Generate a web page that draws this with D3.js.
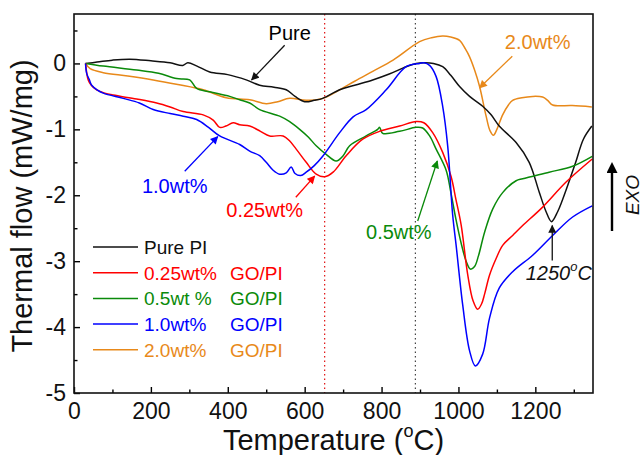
<!DOCTYPE html>
<html>
<head>
<meta charset="utf-8">
<script src="https://cdn.jsdelivr.net/npm/d3@7"></script>
<style>
  body { margin: 0; background: #fff; }
  svg { display: block; font-family: "Liberation Sans", Arial, sans-serif; }
</style>
</head>
<body>
<div id="chart"></div>
<script>
// temperature (C), thermal flow (mW/mg)
const purePI = [[30,0],[60,0.02],[100,0.05],[145,0.065],[200,0.04],[250,0.01],[283,-0.03],[296,0.01],[320,-0.04],[353,-0.13],[400,-0.17],[448,-0.25],[483,-0.33],[520,-0.36],[552,-0.40],[575,-0.50],[600,-0.58],[625,-0.56],[647,-0.53],[691,-0.40],[730,-0.33],[777,-0.25],[820,-0.16],[864,-0.05],[890,0.0],[912,0.01],[935,0.0],[959,-0.05],[980,-0.18],[1003,-0.35],[1029,-0.50],[1063,-0.65],[1085,-0.78],[1106,-0.95],[1150,-1.2],[1184,-1.5],[1210,-1.95],[1228,-2.25],[1242,-2.40],[1258,-2.25],[1270,-2.08],[1280,-1.92],[1292,-1.72],[1305,-1.5],[1325,-1.15],[1347,-0.95]];
const go025 = [[30,0],[37,-0.25],[45,-0.33],[59,-0.40],[80,-0.45],[102,-0.48],[163,-0.54],[215,-0.60],[250,-0.66],[284,-0.73],[336,-0.78],[362,-0.86],[379,-0.97],[395,-0.95],[414,-0.90],[431,-0.93],[457,-0.95],[485,-1.03],[509,-1.10],[544,-1.10],[560,-1.17],[578,-1.30],[604,-1.50],[630,-1.68],[652,-1.72],[674,-1.65],[708,-1.40],[751,-1.15],[795,-1.03],[847,-0.95],[890,-0.88],[910,-0.90],[933,-1.05],[959,-1.35],[981,-1.72],[993,-2.05],[1007,-2.45],[1024,-3.2],[1038,-3.6],[1050,-3.73],[1060,-3.65],[1068,-3.50],[1081,-3.21],[1098,-2.96],[1115,-2.76],[1141,-2.61],[1167,-2.46],[1219,-2.18],[1280,-1.80],[1348,-1.45]];
const go05 = [[30,0],[76,-0.04],[163,-0.10],[220,-0.15],[267,-0.23],[301,-0.25],[319,-0.38],[353,-0.43],[405,-0.50],[431,-0.55],[457,-0.60],[483,-0.70],[535,-0.80],[560,-0.88],[587,-1.00],[610,-1.12],[630,-1.25],[656,-1.38],[682,-1.48],[700,-1.40],[717,-1.25],[760,-1.10],[790,-1.0],[795,-0.97],[803,-1.06],[847,-1.03],[890,-0.97],[907,-0.98],[925,-1.10],[942,-1.30],[968,-1.62],[980,-1.95],[993,-2.35],[1008,-2.75],[1020,-3.0],[1031,-3.12],[1042,-3.08],[1052,-2.92],[1068,-2.56],[1089,-2.21],[1115,-1.96],[1150,-1.78],[1167,-1.75],[1236,-1.65],[1297,-1.56],[1348,-1.41]];
const go10 = [[30,0],[33,-0.15],[40,-0.25],[46,-0.33],[60,-0.40],[76,-0.45],[128,-0.53],[170,-0.60],[206,-0.70],[250,-0.76],[284,-0.80],[319,-0.85],[350,-0.97],[379,-1.10],[431,-1.23],[457,-1.33],[483,-1.40],[500,-1.50],[518,-1.62],[535,-1.68],[552,-1.66],[565,-1.57],[575,-1.67],[590,-1.70],[604,-1.65],[625,-1.55],[648,-1.40],[691,-1.05],[726,-0.81],[760,-0.70],[812,-0.40],[864,-0.05],[899,0.0],[910,0.01],[925,-0.03],[942,-0.20],[959,-0.65],[972,-1.25],[985,-2.30],[994,-2.76],[1011,-3.66],[1029,-4.36],[1044,-4.59],[1063,-4.41],[1081,-3.86],[1106,-3.41],[1141,-3.16],[1193,-2.91],[1245,-2.61],[1297,-2.33],[1348,-2.16]];
const go20 = [[30,0],[42,-0.08],[76,-0.14],[140,-0.19],[206,-0.25],[270,-0.32],[336,-0.40],[396,-0.52],[457,-0.55],[500,-0.61],[530,-0.58],[561,-0.53],[604,-0.56],[647,-0.53],[691,-0.40],[730,-0.27],[777,-0.12],[830,0.05],[899,0.33],[930,0.39],[959,0.415],[980,0.40],[1003,0.35],[1018,0.22],[1029,0.10],[1042,-0.10],[1055,-0.35],[1072,-0.80],[1082,-1.02],[1091,-1.09],[1100,-1.0],[1115,-0.78],[1130,-0.63],[1141,-0.56],[1165,-0.52],[1193,-0.50],[1219,-0.51],[1232,-0.56],[1245,-0.63],[1296,-0.64],[1347,-0.66]];

const seriesNames = ['Pure PI', '0.25wt%', '0.5wt %', '1.0wt%', '2.0wt%'];
const seriesColors = ['#111111', '#ff0000', '#0a8a0a', '#0000ff', '#e8891a'];
const seriesData = [purePI, go025, go05, go10, go20];

const xTicks = [0, 200, 400, 600, 800, 1000, 1200];
const xMinor = [100, 300, 500, 700, 900, 1100, 1300];
const yTicks = [-5, -4, -3, -2, -1, 0];
const yMinor = [-4.5, -3.5, -2.5, -1.5, -0.5, 0.5];

// dotted reference lines
const refLines = [[652, '#e01010'], [888, '#444444']];

// annotations: label, color, text pos [T, V], arrow from, arrow to
const notes = [
    ['Pure', 0, [561, 0.35], [548, 0.275], [462, -0.25]],
    ['1.0wt%', 3, [262, -1.97], [288, -1.635], [374, -1.11]],
    ['0.25wt%', 1, [496, -2.33], [577, -2.03], [626, -1.71]],
    ['0.5wt%', 2, [845, -2.66], [894, -2.39], [945, -1.48]],
    ['2.0wt%', 4, [1206, 0.215], [1140, 0.11], [1055, -0.37]]
];

const width = 643, height = 455;
const margin = {top: 14, right: 50, bottom: 62, left: 74};

const svg = d3.select('#chart').append('svg')
    .attr('width', width)
    .attr('height', height);

const x = d3.scaleLinear()
    .domain([0, 1350])
    .range([margin.left, width - margin.right]);
const y = d3.scaleLinear()
    .domain([-5, 0.75])
    .range([height - margin.bottom, margin.top]);

const defs = svg.append('defs');
seriesColors.forEach((c, i) => {
    defs.append('marker')
        .attr('id', 'arrow' + i)
        .attr('viewBox', '0 0 10 10')
        .attr('refX', 9).attr('refY', 5)
        .attr('markerWidth', 9).attr('markerHeight', 8)
        .attr('markerUnits', 'userSpaceOnUse')
        .attr('orient', 'auto')
        .append('path')
        .attr('d', 'M0,0 L10,5 L0,10 z')
        .attr('fill', c);
});
defs.append('marker')
    .attr('id', 'exoArrow')
    .attr('viewBox', '0 0 10 10')
    .attr('refX', 1).attr('refY', 5)
    .attr('markerWidth', 15).attr('markerHeight', 11)
    .attr('markerUnits', 'userSpaceOnUse')
    .attr('orient', 'auto')
    .append('path')
    .attr('d', 'M0,0 L10,5 L0,10 z')
    .attr('fill', '#000');

// axes
const xAxis = d3.axisBottom(x).tickValues(xTicks).tickSizeInner(-6).tickSizeOuter(0).tickPadding(10).tickFormat(d => String(d));
const xMinorAxis = d3.axisBottom(x).tickValues(xMinor).tickSizeInner(-3.5).tickSizeOuter(0).tickFormat('');
const yAxis = d3.axisLeft(y).tickValues(yTicks).tickSizeInner(-6).tickSizeOuter(0).tickPadding(8).tickFormat(d => String(d));
const yMinorAxis = d3.axisLeft(y).tickValues(yMinor).tickSizeInner(-3.5).tickSizeOuter(0).tickFormat('');

[xAxis, xMinorAxis].forEach(a => {
    svg.append('g')
        .attr('transform', 'translate(0,' + (height - margin.bottom) + ')')
        .call(a);
});
[yAxis, yMinorAxis].forEach(a => {
    svg.append('g')
        .attr('transform', 'translate(' + margin.left + ',0)')
        .call(a);
});
svg.selectAll('.domain').remove();
svg.selectAll('.tick line').attr('stroke', '#000').attr('stroke-width', 1.4);
svg.selectAll('.tick text')
    .attr('fill', '#111')
    .style('font-size', '23px')
    .style('font-family', '"Liberation Sans", Arial, sans-serif');

// reference lines
refLines.forEach(r => {
    svg.append('line')
        .attr('x1', x(r[0])).attr('x2', x(r[0]))
        .attr('y1', y.range()[1]).attr('y2', y.range()[0])
        .attr('stroke', r[1])
        .attr('stroke-width', 1.2)
        .attr('stroke-dasharray', '1.5,3');
});

// curves
const line = d3.line()
    .x(d => x(d[0]))
    .y(d => y(d[1]))
    .curve(d3.curveCatmullRom.alpha(0.5));

const clip = defs.append('clipPath').attr('id', 'plotclip');
clip.append('rect')
    .attr('x', x.range()[0]).attr('y', y.range()[1])
    .attr('width', x.range()[1] - x.range()[0])
    .attr('height', y.range()[0] - y.range()[1]);

const curves = svg.append('g').attr('clip-path', 'url(#plotclip)');
[4, 0, 2, 1, 3].forEach(i => {
    curves.append('path')
        .datum(seriesData[i])
        .attr('d', line)
        .attr('fill', 'none')
        .attr('stroke', seriesColors[i])
        .attr('stroke-width', 1.5);
});

// frame
svg.append('rect')
    .attr('x', x.range()[0]).attr('y', y.range()[1])
    .attr('width', x.range()[1] - x.range()[0])
    .attr('height', y.range()[0] - y.range()[1])
    .attr('fill', 'none')
    .attr('stroke', '#111')
    .attr('stroke-width', 1.6);

// annotations
notes.forEach(n => {
    const c = seriesColors[n[1]];
    svg.append('text')
        .attr('x', x(n[2][0])).attr('y', y(n[2][1]))
        .attr('text-anchor', 'middle')
        .attr('fill', n[1] === 0 ? '#000' : c)
        .style('font-size', '20px')
        .text(n[0]);
    svg.append('line')
        .attr('x1', x(n[3][0])).attr('y1', y(n[3][1]))
        .attr('x2', x(n[4][0])).attr('y2', y(n[4][1]))
        .attr('stroke', c)
        .attr('stroke-width', 1.3)
        .attr('marker-end', 'url(#arrow' + n[1] + ')');
});

// 1250 C peak
svg.append('line')
    .attr('x1', x(1244)).attr('y1', y(-2.99))
    .attr('x2', x(1244)).attr('y2', y(-2.46))
    .attr('stroke', '#111')
    .attr('stroke-width', 1.3)
    .attr('marker-end', 'url(#arrow0)');
const peakText = svg.append('text')
    .attr('x', x(1261)).attr('y', y(-3.29))
    .attr('text-anchor', 'middle')
    .attr('fill', '#111')
    .style('font-size', '20px')
    .style('font-style', 'italic');
peakText.append('tspan').text('1250');
peakText.append('tspan').attr('dy', -9).style('font-size', '13px').text('o');
peakText.append('tspan').attr('dy', 9).text('C');

// legend
const legend = svg.append('g')
    .attr('transform', 'translate(' + (margin.left + 19) + ',' + 247 + ')');
seriesNames.forEach((name, i) => {
    const row = legend.append('g').attr('transform', 'translate(0,' + (i * 25.7) + ')');
    row.append('line')
        .attr('x1', 0).attr('x2', 45)
        .attr('stroke', seriesColors[i])
        .attr('stroke-width', 1.5);
    row.append('text')
        .attr('x', 51).attr('y', 7)
        .attr('fill', seriesColors[i])
        .style('font-size', '19px')
        .text(name);
    if (i > 0) {
        row.append('text')
            .attr('x', 137).attr('y', 7)
            .attr('fill', seriesColors[i])
            .style('font-size', '19px')
            .text('GO/PI');
    }
});

// axis titles
const xTitle = svg.append('text')
    .attr('x', (x.range()[0] + x.range()[1]) / 2 + 0)
    .attr('y', 450)
    .attr('text-anchor', 'middle')
    .attr('fill', '#111')
    .style('font-size', '29px');
xTitle.append('tspan').text('Temperature (');
xTitle.append('tspan').attr('dy', -13).style('font-size', '18px').text('o');
xTitle.append('tspan').attr('dy', 13).text('C)');

svg.append('text')
    .attr('transform', 'translate(32,' + 206 + ') rotate(-90)')
    .attr('text-anchor', 'middle')
    .attr('fill', '#111')
    .style('font-size', '29px')
    .text('Thermal flow (mW/mg)');

// EXO arrow
const exoX = x.range()[1] + 19;
svg.append('line')
    .attr('x1', exoX).attr('x2', exoX)
    .attr('y1', 231).attr('y2', 172)
    .attr('stroke', '#000')
    .attr('stroke-width', 2.4)
    .attr('marker-end', 'url(#exoArrow)');
svg.append('text')
    .attr('transform', 'translate(' + (exoX + 27) + ',195) rotate(-90)')
    .attr('text-anchor', 'middle')
    .attr('fill', '#111')
    .style('font-size', '19px')
    .style('font-style', 'italic')
    .text('EXO');
</script>
</body>
</html>
